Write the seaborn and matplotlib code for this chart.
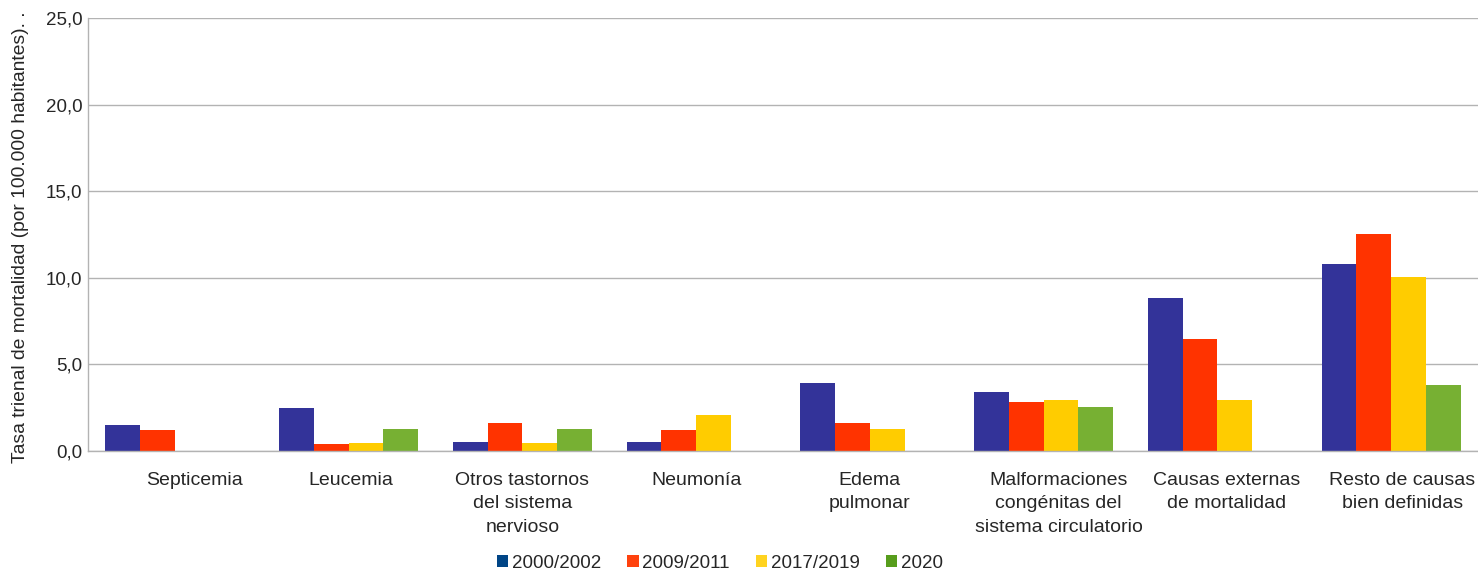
import matplotlib
matplotlib.use("Agg")
import matplotlib.pyplot as plt
import matplotlib.transforms as mtransforms
from matplotlib.patches import Patch
from matplotlib.ticker import FuncFormatter, FixedLocator
import seaborn as sns
import pandas as pd

# <--- data --->
categories = [
    "Septicemia",
    "Leucemia",
    "Otros tastornos\ndel sistema\nnervioso",
    "Neumonía",
    "Edema\npulmonar",
    "Malformaciones\ncongénitas del\nsistema circulatorio",
    "Causas externas\nde mortalidad",
    "Resto de causas\nbien definidas",
]
periods = ["2000/2002", "2009/2011", "2017/2019", "2020"]
v_2000_2002 = [1.48, 2.46, 0.52, 0.52, 3.90, 3.43, 8.82, 10.78]
v_2009_2011 = [1.21, 0.40, 1.64, 1.21, 1.64, 2.83, 6.47, 12.53]
v_2017_2019 = [0.0, 0.44, 0.44, 2.10, 1.25, 2.92, 2.92, 10.03]
v_2020 = [0.0, 1.27, 1.27, 0.0, 0.0, 2.52, 0.0, 3.81]

bar_colors = ["#333399", "#ff3300", "#ffcc00", "#77b033"]
legend_colors = ["#004586", "#ff420e", "#ffd320", "#579d1c"]

# small horizontal nudges (px) of the category labels, as in the original
label_shift_px = [20, 2, 0, 0, 0, 15, 9, 11]

df = pd.DataFrame({
    "causa": categories * 4,
    "periodo": [p for p in periods for _ in categories],
    "tasa": v_2000_2002 + v_2009_2011 + v_2017_2019 + v_2020,
})

sns.set_style("white")
plt.rcParams["font.family"] = ["Liberation Sans", "DejaVu Sans"]

fig = plt.figure(figsize=(14.78, 5.71), dpi=100)
ax = fig.add_axes([88 / 1478, 120 / 571, 1390 / 1478, 433 / 571])

sns.barplot(
    data=df, x="causa", y="tasa", hue="periodo",
    order=categories, hue_order=periods,
    palette=bar_colors, saturation=1, width=0.8,
    linewidth=0, legend=False, ax=ax,
)

ax.set_ylim(0, 25)
ax.set_xlim(-0.5, len(categories) - 0.5)
ax.yaxis.set_major_locator(FixedLocator([0, 5, 10, 15, 20, 25]))
ax.yaxis.set_major_formatter(FuncFormatter(lambda v, p: f"{v:.1f}".replace(".", ",")))
ax.grid(axis="y", color="#b3b3b3", linewidth=1)
ax.set_axisbelow(True)
ax.tick_params(axis="y", labelsize=13.5, length=0, pad=4)

# category labels at the centres, ticks at the group edges
ax.tick_params(axis="x", which="major", length=0, pad=15, labelsize=14)
ax.set_xticks(range(len(categories)))
ax.set_xticklabels(categories, linespacing=1.5)
ax.set_xticks([i - 0.5 for i in range(len(categories) + 1)], minor=True)
ax.tick_params(axis="x", which="minor", length=8, width=1, color="#b3b3b3", direction="out")

for lab, dx in zip(ax.get_xticklabels(), label_shift_px):
    lab.set_transform(lab.get_transform() + mtransforms.ScaledTranslation(dx / 100, 0, fig.dpi_scale_trans))

for s in ["top", "right"]:
    ax.spines[s].set_visible(False)
for s in ["left", "bottom"]:
    ax.spines[s].set_color("#b3b3b3")
    ax.spines[s].set_linewidth(1)

ax.set_xlabel("")
ax.set_ylabel("")
fig.text(21 / 1478, 1 - 463 / 571, "Tasa trienal de mortalidad (por 100.000 habitantes). .",
         rotation=90, ha="center", va="bottom", fontsize=13.9)

handles = [Patch(facecolor=c, edgecolor="none") for c in legend_colors]
fig.legend(handles, periods, loc="center", bbox_to_anchor=(720 / 1478, 8 / 571),
           ncol=4, frameon=False, fontsize=13.5, handlelength=0.6, handleheight=0.6,
           handletextpad=0.2, columnspacing=1.4, borderaxespad=0)

fig.savefig("out.png", dpi=100)
